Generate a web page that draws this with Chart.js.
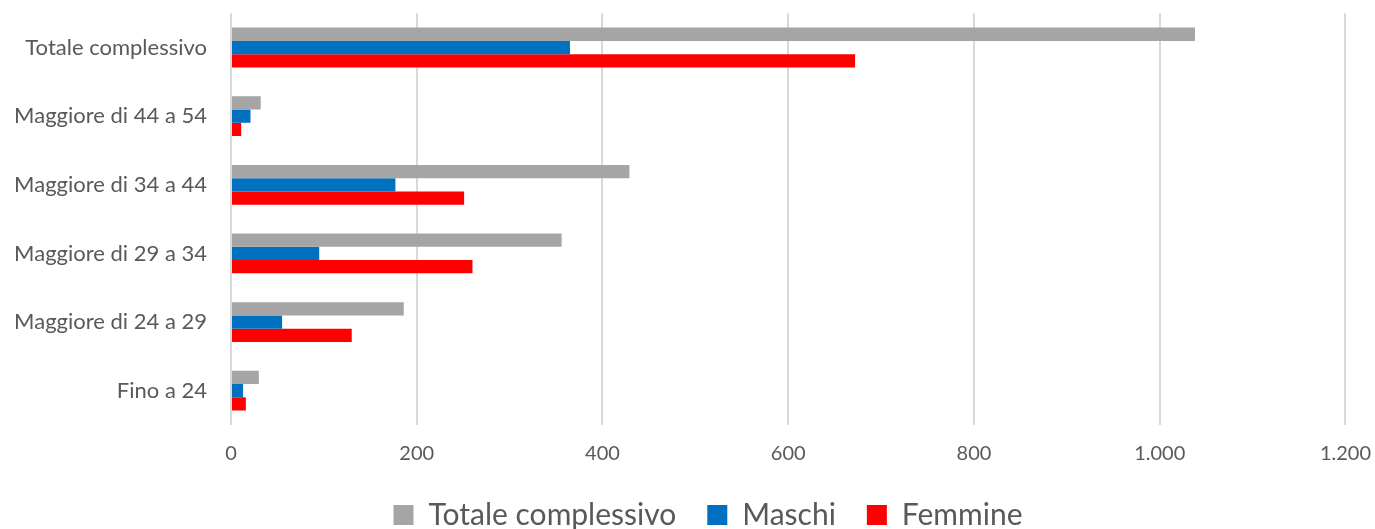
<!DOCTYPE html>
<html>
<head>
<meta charset="utf-8">
<script src="https://cdn.jsdelivr.net/npm/chart.js@4/dist/chart.umd.min.js"></script>
<style>
  body { margin: 0; background: #fff; }
  #wrap { width: 1375px; height: 529px; position: relative; }
</style>
</head>
<body>
<div id="wrap"><canvas id="chart"></canvas></div>
<script>
// categorie (dall'alto verso il basso)
const categories = ['Totale complessivo', 'Maggiore di 44 a 54', 'Maggiore di 34 a 44',
    'Maggiore di 29 a 34', 'Maggiore di 24 a 29', 'Fino a 24'];

// valori
const totale = [1038, 32, 429, 356, 186, 30];
const maschi = [365, 21, 177, 95, 55, 13];
const femmine = [672, 11, 251, 260, 130, 16];

const xMax = 1200;
const xStep = 200;

const textColor = '#595959';
const fontFamily = 'Lato, "Open Sans", sans-serif';

// formato italiano: 1.000
function fmt(v) {
    return String(v).replace(/\B(?=(\d{3})+(?!\d))/g, '.');
}

// sposta la legenda un po' a destra, come nell'originale
const legendShift = {
    id: 'legendShift',
    afterLayout(chart) {
        if (!chart.legend) return;
        chart.legend.left += 35;
        chart.legend.right += 35;
    }
};

new Chart(document.getElementById('chart'), {
    type: 'bar',
    data: {
        labels: categories,
        datasets: [
            { label: 'Totale complessivo', data: totale, backgroundColor: '#a5a5a5' },
            { label: 'Maschi', data: maschi, backgroundColor: '#0070c0' },
            { label: 'Femmine', data: femmine, backgroundColor: '#ff0000' }
        ]
    },
    options: {
        indexAxis: 'y',
        responsive: true,
        maintainAspectRatio: false,
        animation: false,
        layout: { padding: { top: 12, right: 29, left: 0, bottom: -11 } },
        datasets: {
            bar: { barPercentage: 1, categoryPercentage: 0.58 }
        },
        scales: {
            x: {
                min: 0,
                max: xMax,
                ticks: {
                    stepSize: xStep,
                    color: textColor,
                    font: { family: fontFamily, size: 20 },
                    padding: 4,
                    callback: v => fmt(v)
                },
                grid: { color: '#d9d9d9', lineWidth: 2, drawTicks: true, tickLength: 13, tickColor: 'rgba(0,0,0,0)' },
                border: { display: false },
                afterFit: s => { s.height = 44; }
            },
            y: {
                ticks: {
                    color: textColor,
                    font: { family: fontFamily, size: 22 },
                    padding: 0
                },
                grid: { display: false, drawTicks: true, tickLength: 24 },
                border: { display: false },
                afterFit: s => { s.width = 231; }
            }
        },
        plugins: {
            legend: {
                position: 'bottom',
                labels: {
                    color: textColor,
                    font: { family: fontFamily, size: 30 },
                    boxWidth: 20,
                    boxHeight: 20,
                    padding: 31
                }
            },
            tooltip: { enabled: false }
        }
    },
    plugins: [legendShift]
});
</script>
</body>
</html>
